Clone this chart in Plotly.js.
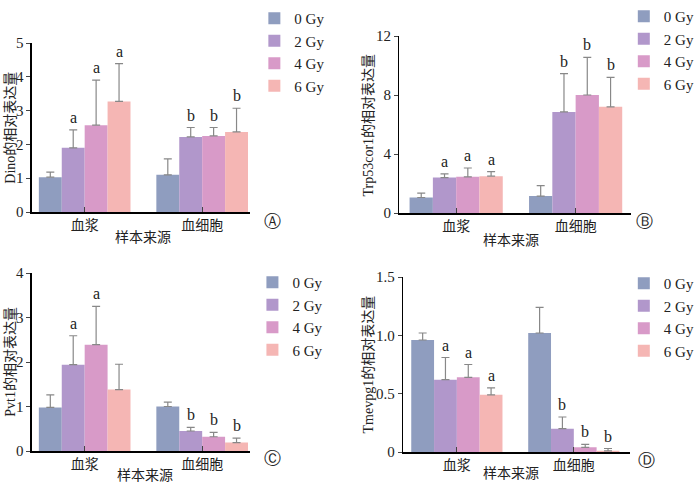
<!DOCTYPE html>
<html>
<head>
<meta charset="utf-8">
<script src="https://cdn.plot.ly/plotly-3.0.1.min.js"></script>
<style>body{margin:0}#chart{width:700px;height:483px}</style>
</head>
<body>
<div id="chart"></div>
<script>
let doses = ["0 Gy", "2 Gy", "4 Gy", "6 Gy"]
let colors = ["#8f9dbf", "#b197cb", "#d89ac8", "#f5b6b4"]
let groups = ["血浆", "血细胞"]

// [plasma, cells] per dose
let dinoMean = [[1.03, 1.1], [1.9, 2.22], [2.57, 2.25], [3.27, 2.37]]
let dinoErr = [[0.15, 0.47], [0.53, 0.28], [1.33, 0.25], [1.12, 0.7]]
let dinoLetters = [["", ""], ["a", "b"], ["a", "b"], ["a", "b"]]

let trpMean = [[1.05, 1.15], [2.4, 6.85], [2.45, 8.0], [2.5, 7.2]]
let trpErr = [[0.3, 0.7], [0.25, 2.6], [0.6, 2.55], [0.3, 2.0]]
let trpLetters = [["", ""], ["a", "b"], ["a", "b"], ["a", "b"]]

let pvtMean = [[0.98, 1.0], [1.94, 0.45], [2.39, 0.32], [1.38, 0.19]]
let pvtErr = [[0.28, 0.1], [0.65, 0.08], [0.86, 0.1], [0.57, 0.1]]
let pvtLetters = [["", ""], ["a", "b"], ["a", "b"], ["", "b"]]

let tmeMean = [[0.96, 1.02], [0.62, 0.2], [0.64, 0.04], [0.49, 0.01]]
let tmeErr = [[0.06, 0.22], [0.19, 0.1], [0.11, 0.025], [0.06, 0.02]]
let tmeLetters = [["", ""], ["a", "b"], ["a", "b"], ["a", "b"]]

let W = 700, H = 483
let serif = "Liberation Serif, Noto Sans CJK SC"
let cjk = "Liberation Serif, Noto Sans CJK SC"

let panels = [
    { mean: dinoMean, err: dinoErr, letters: dinoLetters, title: "Dino的相对表达量", tag: "Ⓐ",
      px: [33, 258], py: [212, 43], range: [-0.449, 1.403], yr: [0, 5], ytv: [0, 1, 2, 3, 4, 5], ytt: ["0", "1", "2", "3", "4", "5"],
      ytitle: [10, 128], xtitle: [148, 238], tagpos: [282, 221], legend: [263, 2] },
    { mean: trpMean, err: trpErr, letters: trpLetters, title: "Trp53cor1的相对表达量", tag: "Ⓑ",
      px: [413, 652], py: [213, 36], range: [-0.475, 1.46], yr: [0, 12], ytv: [0, 4, 8, 12], ytt: ["0", "4", "8", "12"],
      ytitle: [380, 125], xtitle: [528, 240], tagpos: [666, 221], legend: [645, 0] },
    { mean: pvtMean, err: pvtErr, letters: pvtLetters, title: "Pvt1的相对表达量", tag: "Ⓒ",
      px: [33, 258], py: [451, 273], range: [-0.449, 1.403], yr: [0, 4], ytv: [0, 1, 2, 3, 4], ytt: ["0", "1", "2", "3", "4"],
      ytitle: [10, 362], xtitle: [150, 475], tagpos: [282, 458], legend: [261, 266] },
    { mean: tmeMean, err: tmeErr, letters: tmeLetters, title: "Tmevpg1的相对表达量", tag: "Ⓓ",
      px: [417, 651], py: [452, 277], range: [-0.458, 1.477], yr: [0, 1.5], ytv: [0, 0.5, 1, 1.5], ytt: ["0", "0.5", "1.0", "1.5"],
      ytitle: [380, 365], xtitle: [528, 473], tagpos: [668, 460], legend: [645, 267] }
]

let traces = []
let annotations = []
let layout = {
    width: W, height: H,
    margin: { l: 0, r: 0, t: 0, b: 0 },
    paper_bgcolor: "white", plot_bgcolor: "white",
    barmode: "group", bargap: 0.22, bargroupgap: 0,
    font: { family: cjk, size: 13, color: "#222" },
    annotations: annotations
}

let offsets = [-0.2925, -0.0975, 0.0975, 0.2925]

panels.forEach((p, i) => {
    let n = i + 1
    let xa = "xaxis" + (n === 1 ? "" : n)
    let ya = "yaxis" + (n === 1 ? "" : n)
    let xr = "x" + (n === 1 ? "" : n)
    let yr = "y" + (n === 1 ? "" : n)
    let lg = "legend" + (n === 1 ? "" : n)

    layout[xa] = {
        domain: [p.px[0] / W, p.px[1] / W], range: p.range, anchor: yr,
        tickvals: [0, 1], ticktext: groups, ticks: "inside", ticklen: 5,
        showline: true, linecolor: "#000", linewidth: 1.5, showgrid: false, zeroline: false,
        tickfont: { family: cjk, size: 14 }, fixedrange: true
    }
    layout[ya] = {
        domain: [1 - p.py[0] / H, 1 - p.py[1] / H], range: p.yr, anchor: xr,
        tickvals: p.ytv, ticktext: p.ytt, ticks: "outside", ticklen: 4,
        showline: true, linecolor: "#000", linewidth: 1.5, showgrid: false, zeroline: false,
        tickfont: { family: serif, size: 15 }
    }
    layout[lg] = {
        x: p.legend[0] / W, y: 1 - p.legend[1] / H, xanchor: "left", yanchor: "top",
        bgcolor: "rgba(0,0,0,0)", font: { family: serif, size: 15 }, tracegroupgap: 0,
        itemwidth: 30, valign: "middle"
    }

    doses.forEach((d, k) => {
        traces.push({
            type: "bar", x: [0, 1], y: p.mean[k], name: d,
            xaxis: xr, yaxis: yr, legend: lg,
            marker: { color: colors[k], line: { width: 0 } },
            error_y: { type: "data", symmetric: false, array: p.err[k], arrayminus: [0, 0], color: "#888", thickness: 1.2, width: 4 },
            hoverinfo: "skip"
        })
        p.letters[k].forEach((t, g) => {
            if (!t) return
            annotations.push({
                xref: xr, yref: yr, x: g + offsets[k], y: p.mean[k][g] + p.err[k][g],
                xanchor: "center", yanchor: "bottom", text: t, showarrow: false, yshift: 2,
                font: { family: serif, size: 16 }
            })
        })
    })

    annotations.push({
        xref: "paper", yref: "paper", x: p.ytitle[0] / W, y: 1 - p.ytitle[1] / H,
        xanchor: "center", yanchor: "middle",
        text: p.title, textangle: -90, showarrow: false, font: { family: cjk, size: 14 }
    })
    annotations.push({
        xref: "paper", yref: "paper", x: p.xtitle[0] / W, y: 1 - p.xtitle[1] / H,
        xanchor: "center", yanchor: "middle",
        text: "样本来源", showarrow: false, font: { family: cjk, size: 14 }
    })
    annotations.push({
        xref: "paper", yref: "paper", x: p.tagpos[0] / W, y: 1 - p.tagpos[1] / H,
        xanchor: "center", yanchor: "middle",
        text: p.tag, showarrow: false, font: { family: "DejaVu Sans", size: 17 }
    })
})

Plotly.newPlot("chart", traces, layout, { displayModeBar: false, staticPlot: true })
</script>
</body>
</html>
